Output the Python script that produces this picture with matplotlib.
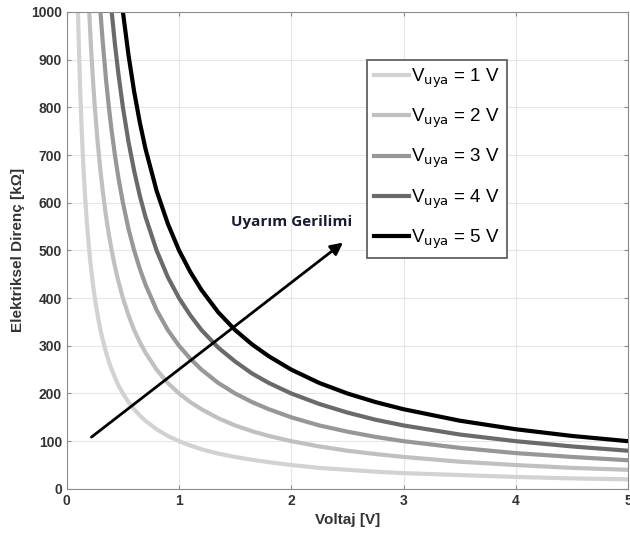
import numpy as np
import matplotlib.pyplot as plt

plt.rcParams['font.family'] = ['Liberation Sans', 'DejaVu Sans']

# okunan degerler
v = [0.1, 0.105, 0.11, 0.12, 0.13, 0.14, 0.15, 0.165, 0.18, 0.2, 0.21, 0.22, 0.235,
     0.25, 0.275, 0.3, 0.32, 0.35, 0.375, 0.4, 0.43, 0.46, 0.5, 0.55, 0.6, 0.65,
     0.7, 0.8, 0.9, 1.0, 1.1, 1.2, 1.35, 1.5, 1.65, 1.8, 2.0, 2.25, 2.5, 2.75,
     3.0, 3.5, 4.0, 4.5, 5.0]
n = np.nan
r1 = [1000, 952, 909, 833, 769, 714, 667, 606, 556, 500, 476, 455, 426, 400, 364,
      333, 313, 286, 267, 250, 233, 217, 200, 182, 167, 154, 143, 125, 111, 100,
      91, 83, 74, 67, 61, 56, 50, 44, 40, 36, 33, 29, 25, 22, 20]
r2 = [n] * 9 + [1000, 952, 909, 851, 800, 727, 667, 625, 571, 533, 500, 465, 435,
                400, 364, 333, 308, 286, 250, 222, 200, 182, 167, 148, 133, 121,
                111, 100, 89, 80, 73, 67, 57, 50, 44, 40]
r3 = [n] * 15 + [1000, 938, 857, 800, 750, 698, 652, 600, 545, 500, 462, 429, 375,
                 333, 300, 273, 250, 222, 200, 182, 167, 150, 133, 120, 109, 100,
                 86, 75, 67, 60]
r4 = [n] * 19 + [1000, 930, 870, 800, 727, 667, 615, 571, 500, 444, 400, 364, 333,
                 296, 267, 242, 222, 200, 178, 160, 145, 133, 114, 100, 89, 80]
r5 = [n] * 22 + [1000, 909, 833, 769, 714, 625, 556, 500, 455, 417, 370, 333, 303,
                 278, 250, 222, 200, 182, 167, 143, 125, 111, 100]
seviyeler = [1, 2, 3, 4, 5]
renkler = ['#d2d2d2', '#c0c0c0', '#979797', '#6a6a6a', '#000000']

fig = plt.figure(figsize=(6.3, 5.42), dpi=100)
ax = fig.add_axes([0.106, 0.098, 0.891, 0.88])

for r, s, c in zip([r1, r2, r3, r4, r5], seviyeler, renkler):
    ax.plot(v, r, color=c, linewidth=3, label=r'V$_{\mathrm{uya}}$ = %d V' % s)

ax.set_xlim(0, 5)
ax.set_ylim(0, 1000)
ax.set_xticks(range(0, 6))
ax.set_yticks(range(0, 1001, 100))
ax.grid(True, color='#e6e6e6', linewidth=0.8)
for sp in ax.spines.values():
    sp.set_color('#8c8c8c')
ax.tick_params(direction='in', length=3, color='#8c8c8c', labelsize=10,
               labelcolor='#333333', top=True, right=True)
for lab in ax.get_xticklabels() + ax.get_yticklabels():
    lab.set_fontweight('bold')
ax.set_xlabel('Voltaj [V]', fontsize=11, fontweight='bold', color='#333333')
ax.set_ylabel('Elektriksel Direnç [kΩ]', fontsize=11, fontweight='bold', color='#333333')

ax.annotate('', xy=(2.48, 520), xytext=(0.2, 105),
            arrowprops=dict(arrowstyle='-|>', color='black', lw=2, mutation_scale=18))
ax.text(2.0, 560, 'Uyarım Gerilimi', fontsize=11, fontweight='bold',
        color='#1a1a33', ha='center', va='center', family=['Open Sans', 'DejaVu Sans'])

leg = ax.legend(loc='upper left', bbox_to_anchor=(0.535, 0.9), fontsize=13.5,
                handlelength=1.9, handletextpad=0.1, labelspacing=0.9,
                borderpad=0.35, borderaxespad=0, fancybox=False, framealpha=1)
leg.get_frame().set_edgecolor('#555555')
leg.get_frame().set_linewidth(1.2)

fig.savefig('out.png')
